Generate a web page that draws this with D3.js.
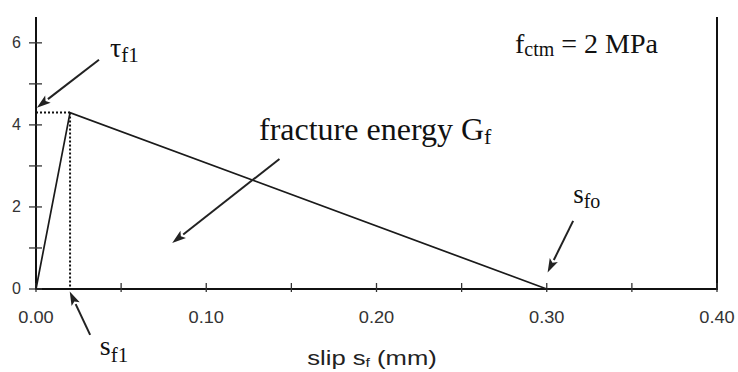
<!DOCTYPE html>
<html>
<head>
<meta charset="utf-8">
<script src="https://cdn.jsdelivr.net/npm/d3@7/dist/d3.min.js"></script>
<style>
  html, body { margin: 0; padding: 0; background: #fff; }
  svg { display: block; }
  .tick-label { font-family: "Liberation Sans", Arial, sans-serif; fill: #333; }
  .note { font-family: "Liberation Serif", "Times New Roman", serif; fill: #111; }
</style>
</head>
<body>
<svg id="chart" width="738" height="372"></svg>
<script>
// Bilinear bond stress-slip law
const slip = [0, 0.02, 0.30];          // mm
const stress = [0, 4.3, 0];            // MPa
const peakSlip = 0.02;
const peakStress = 4.3;

const xTicks = [0, 0.1, 0.2, 0.3, 0.4];
const xMinorTicks = [0.05, 0.15, 0.25, 0.35];
const xTickLabels = ["0.00", "0.10", "0.20", "0.30", "0.40"];
const yTicks = [0, 2, 4, 6];
const yMinorTicks = [1, 3, 5];
const yTickLabels = ["0", "2", "4", "6"];

// annotation arrows: [tail slip, tail stress, head slip, head stress]
const arrowTau = [0.037, 5.59, 0.0005, 4.42];
const arrowSf1 = [0.0318, -1.12, 0.0198, -0.06];
const arrowSfo = [0.3155, 1.66, 0.3005, 0.40];
const arrowGf = [0.143, 3.17, 0.080, 1.12];

const svg = d3.select("#chart");
const x = d3.scaleLinear().domain([0, 0.4]).range([36, 717]);
const y = d3.scaleLinear().domain([0, 6.63]).range([289, 17]);

// frame: left axis, bottom axis, right border
const frame = svg.append("g").attr("stroke", "#111").attr("stroke-width", 2).attr("fill", "none");
frame.append("path").attr("d", d3.line()([[x(0), y(6.63)], [x(0), y(0)], [x(0.4), y(0)], [x(0.4), y(6.63)]]));

// x ticks
const tickG = svg.append("g").attr("stroke", "#333").attr("stroke-width", 1.3);
xTicks.concat(xMinorTicks).forEach(v => {
  tickG.append("line").attr("x1", x(v)).attr("x2", x(v)).attr("y1", y(0) - 6).attr("y2", y(0) + 3);
});
yTicks.concat(yMinorTicks).forEach(v => {
  tickG.append("line").attr("x1", x(0) - 7).attr("x2", x(0) + 6).attr("y1", y(v)).attr("y2", y(v));
});

svg.append("g").selectAll("text").data(xTicks).join("text")
  .attr("class", "tick-label")
  .attr("x", d => x(d)).attr("y", 323)
  .attr("text-anchor", "middle").attr("font-size", 16)
  .attr("transform", d => `translate(${x(d)},0) scale(1.14,1) translate(${-x(d)},0)`)
  .text((d, i) => xTickLabels[i]);

svg.append("g").selectAll("text").data(yTicks).join("text")
  .attr("class", "tick-label")
  .attr("x", 21).attr("y", d => y(d) + 5)
  .attr("text-anchor", "end").attr("font-size", 16)
  .text((d, i) => yTickLabels[i]);

// axis title
const title = svg.append("text").attr("class", "tick-label")
  .attr("x", 372).attr("y", 365).attr("text-anchor", "middle").attr("font-size", 21)
  .attr("transform", "translate(372,0) scale(1.22,1) translate(-372,0)")
  .style("fill", "#222");
title.append("tspan").text("slip s");
title.append("tspan").attr("font-size", 13).attr("dy", 2).text("f");
title.append("tspan").attr("dy", -2).text(" (mm)");

// dotted guides to the peak
const dots = svg.append("g").attr("stroke", "#111").attr("stroke-width", 2)
  .attr("stroke-dasharray", "2,2").attr("fill", "none");
dots.append("line").attr("x1", x(0)).attr("x2", x(peakSlip)).attr("y1", y(peakStress)).attr("y2", y(peakStress));
dots.append("line").attr("x1", x(peakSlip)).attr("x2", x(peakSlip)).attr("y1", y(peakStress)).attr("y2", y(0));

// bond-slip curve
const pts = slip.map((s, i) => [s, stress[i]]);
svg.append("path")
  .attr("d", d3.line().x(d => x(d[0])).y(d => y(d[1]))(pts))
  .attr("fill", "none").attr("stroke", "#1a1a1a").attr("stroke-width", 1.7);

// arrows
function arrow(a) {
  const x1 = x(a[0]), y1 = y(a[1]), x2 = x(a[2]), y2 = y(a[3]);
  const ang = Math.atan2(y2 - y1, x2 - x1);
  const L = 14, W = 4.5;
  const bx = x2 - L * Math.cos(ang), by = y2 - L * Math.sin(ang);
  svg.append("line").attr("x1", x1).attr("y1", y1).attr("x2", bx).attr("y2", by)
    .attr("stroke", "#222").attr("stroke-width", 2);
  const px = -Math.sin(ang) * W, py = Math.cos(ang) * W;
  svg.append("path")
    .attr("d", `M${x2},${y2}L${bx + px},${by + py}L${bx + 3 * Math.cos(ang)},${by + 3 * Math.sin(ang)}L${bx - px},${by - py}Z`)
    .attr("fill", "#222");
}
[arrowTau, arrowSf1, arrowSfo, arrowGf].forEach(arrow);

// labels
function subLabel(px, py, main, sub, size, subSize, dy) {
  const t = svg.append("text").attr("class", "note").attr("x", px).attr("y", py).attr("font-size", size);
  t.append("tspan").text(main);
  t.append("tspan").attr("font-size", subSize).attr("dy", dy).text(sub);
  return t;
}
subLabel(x(0.0435), y(5.66), "\u03c4", "f1", 28, 21, 5);
subLabel(x(0.0375), y(-1.6), "s", "f1", 28, 21, 7);
subLabel(x(0.3155), y(2.1), "s", "fo", 27, 20, 5);

const fctm = svg.append("text").attr("class", "note").attr("x", 515).attr("y", 53).attr("font-size", 28);
fctm.append("tspan").text("f");
fctm.append("tspan").attr("font-size", 20).attr("dy", 3).text("ctm");
fctm.append("tspan").attr("dy", -3).text(" = 2 MPa");

const gf = svg.append("text").attr("class", "note").attr("x", 259).attr("y", 140).attr("font-size", 32);
gf.append("tspan").text("fracture energy G");
gf.append("tspan").attr("font-size", 22).attr("dy", 4).text("f");
</script>
</body>
</html>
